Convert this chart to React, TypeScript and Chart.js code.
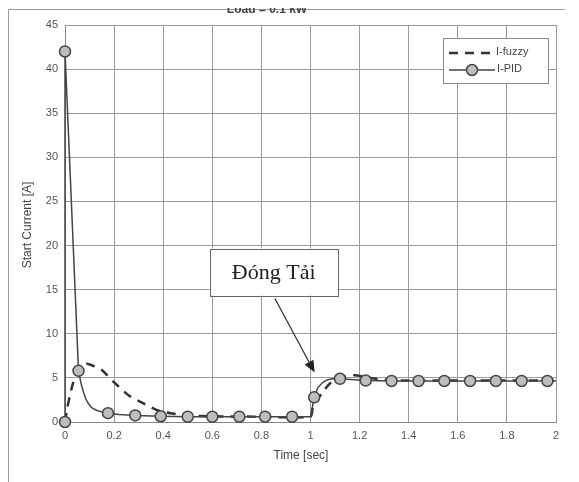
import React, { useEffect, useRef } from "react";
import { Chart, registerables } from "chart.js";

Chart.register(...registerables);

// ---- data ----
const xTicksMin = 0;
const xTicksMax = 2;
const xStep = 0.2;
const yTicksMin = 0;
const yTicksMax = 45;
const yStep = 5;

const pidT = [0, 0, 0.055, 0.065, 0.075, 0.085, 0.095, 0.11, 0.13, 0.15, 0.175, 0.22, 0.286, 0.39, 0.5, 0.6, 0.71, 0.815, 0.925, 1.0, 1.005, 1.015, 1.03, 1.05, 1.07, 1.09, 1.12, 1.225, 1.33, 1.44, 1.545, 1.65, 1.755, 1.86, 1.965, 2.0];
const pidI = [0, 42, 5.8, 4.4, 3.4, 2.6, 2.1, 1.6, 1.3, 1.15, 1.0, 0.85, 0.75, 0.65, 0.6, 0.6, 0.6, 0.6, 0.6, 0.6, 1.3, 2.8, 3.9, 4.5, 4.8, 4.9, 4.9, 4.7, 4.65, 4.65, 4.65, 4.65, 4.65, 4.65, 4.65, 4.65];
const pidMarker = [1, 1, 1, 0, 0, 0, 0, 0, 0, 0, 1, 0, 1, 1, 1, 1, 1, 1, 1, 0, 0, 1, 0, 0, 0, 0, 1, 1, 1, 1, 1, 1, 1, 1, 1, 0];

const fuzzyT = [0, 0.01, 0.025, 0.04, 0.06, 0.088, 0.12, 0.15, 0.2, 0.26, 0.32, 0.38, 0.43, 0.5, 0.6, 0.8, 1.0, 1.01, 1.03, 1.05, 1.08, 1.12, 1.18, 1.25, 1.32, 1.4, 1.6, 2.0];
const fuzzyI = [0, 1.7, 3.6, 5.1, 6.1, 6.6, 6.3, 5.9, 4.5, 3.0, 2.1, 1.3, 1.0, 0.75, 0.65, 0.6, 0.6, 1.7, 2.6, 3.4, 4.4, 5.0, 5.3, 4.95, 4.75, 4.7, 4.7, 4.7];

const seriesNames = ["I-fuzzy", "I-PID"];
const xTitle = "Time [sec]";
const yTitle = "Start Current [A]";
const topTitle = "Load = 0.1 kW";
const noteText = "Đóng Tải";
const noteBox = { t: 0.85, i: 17.0 };
const noteArrowFrom = { t: 0.855, i: 14.0 };
const noteArrowTo = { t: 1.017, i: 5.6 };

const W = 579;
const H = 482;

const markerFill = "#bdbdbd";
const markerEdge = "#444";

const decorPlugin = {
  id: "decor",
  afterDraw(chart: any) {
    const ctx = chart.ctx as CanvasRenderingContext2D;
    const xs = chart.scales.x;
    const ys = chart.scales.y;
    ctx.save();

    // outer frame
    ctx.strokeStyle = "#9a9a9a";
    ctx.lineWidth = 1;
    ctx.beginPath();
    ctx.moveTo(8.5, H);
    ctx.lineTo(8.5, 9.5);
    ctx.lineTo(565, 9.5);
    ctx.stroke();

    // cut-off title
    ctx.fillStyle = "#444";
    ctx.font = "bold 12px Arial, 'Liberation Sans', sans-serif";
    ctx.textAlign = "center";
    ctx.textBaseline = "alphabetic";
    ctx.fillText(topTitle, 267, 13);
    ctx.fillStyle = "#fff";
    ctx.fillRect(200, 0, 140, 8);

    // axis titles
    ctx.fillStyle = "#444";
    ctx.font = "12px Arial, 'Liberation Sans', sans-serif";
    ctx.textBaseline = "middle";
    ctx.fillText(xTitle, 301, 456);
    ctx.save();
    ctx.translate(28, 225);
    ctx.rotate(-Math.PI / 2);
    ctx.fillText(yTitle, 0, 0);
    ctx.restore();

    // legend
    const lx = 443.5, ly = 38.5, lw = 105, lh = 45;
    ctx.fillStyle = "#fff";
    ctx.fillRect(lx, ly, lw, lh);
    ctx.strokeStyle = "#8a8a8a";
    ctx.lineWidth = 1;
    ctx.strokeRect(lx, ly, lw, lh);
    ctx.strokeStyle = "#333";
    ctx.lineWidth = 2.5;
    ctx.setLineDash([9, 7]);
    ctx.beginPath();
    ctx.moveTo(449, 53);
    ctx.lineTo(494, 53);
    ctx.stroke();
    ctx.setLineDash([]);
    ctx.lineWidth = 1.5;
    ctx.strokeStyle = "#444";
    ctx.beginPath();
    ctx.moveTo(449, 70);
    ctx.lineTo(495, 70);
    ctx.stroke();
    ctx.beginPath();
    ctx.arc(472, 70, 5.5, 0, Math.PI * 2);
    ctx.fillStyle = markerFill;
    ctx.fill();
    ctx.strokeStyle = markerEdge;
    ctx.stroke();
    ctx.fillStyle = "#444";
    ctx.font = "11px Arial, 'Liberation Sans', sans-serif";
    ctx.textAlign = "left";
    ctx.fillText(seriesNames[0], 496, 52);
    ctx.fillText(seriesNames[1], 497, 69);

    // annotation box
    const bx = xs.getPixelForValue(noteBox.t);
    const by = ys.getPixelForValue(noteBox.i);
    const bw = 128, bh = 47;
    ctx.fillStyle = "#fff";
    ctx.fillRect(bx - bw / 2, by - bh / 2, bw, bh);
    ctx.strokeStyle = "#666";
    ctx.lineWidth = 1;
    ctx.strokeRect(Math.round(bx - bw / 2) + 0.5, Math.round(by - bh / 2) + 0.5, bw, bh);
    ctx.fillStyle = "#222";
    ctx.font = "22px 'Liberation Serif', 'Times New Roman', serif";
    ctx.textAlign = "center";
    ctx.textBaseline = "middle";
    ctx.fillText(noteText, bx, by + 1);

    // arrow
    const ax0 = xs.getPixelForValue(noteArrowFrom.t);
    const ay0 = ys.getPixelForValue(noteArrowFrom.i);
    const ax1 = xs.getPixelForValue(noteArrowTo.t);
    const ay1 = ys.getPixelForValue(noteArrowTo.i);
    const ang = Math.atan2(ay1 - ay0, ax1 - ax0);
    const hl = 12, hw = 5;
    ctx.strokeStyle = "#333";
    ctx.lineWidth = 1.3;
    ctx.beginPath();
    ctx.moveTo(ax0, ay0);
    ctx.lineTo(ax1 - Math.cos(ang) * hl, ay1 - Math.sin(ang) * hl);
    ctx.stroke();
    ctx.fillStyle = "#222";
    ctx.beginPath();
    ctx.moveTo(ax1, ay1);
    ctx.lineTo(ax1 - Math.cos(ang) * hl - Math.sin(ang) * hw, ay1 - Math.sin(ang) * hl + Math.cos(ang) * hw);
    ctx.lineTo(ax1 - Math.cos(ang) * hl + Math.sin(ang) * hw, ay1 - Math.sin(ang) * hl - Math.cos(ang) * hw);
    ctx.closePath();
    ctx.fill();

    ctx.restore();
  },
};

export default function App() {
  const ref = useRef<HTMLCanvasElement>(null);

  useEffect(() => {
    document.body.style.margin = "0";
    const canvas = ref.current;
    if (!canvas) return;

    const pidData = pidT.map((t, k) => ({ x: t, y: pidI[k] }));
    const fuzzyData = fuzzyT.map((t, k) => ({ x: t, y: fuzzyI[k] }));

    const chart = new Chart(canvas, {
      type: "line",
      data: {
        datasets: [
          {
            label: seriesNames[1],
            data: pidData,
            borderColor: "#444",
            borderWidth: 1.5,
            tension: 0,
            pointRadius: pidMarker.map((m) => (m ? 5.5 : 0)),
            pointBackgroundColor: markerFill,
            pointBorderColor: markerEdge,
            pointBorderWidth: 1.5,
            clip: false as any,
            order: 0,
          },
          {
            label: seriesNames[0],
            data: fuzzyData,
            borderColor: "#333",
            borderWidth: 2.5,
            borderDash: [9, 7],
            tension: 0.2,
            pointRadius: 0,
            clip: false as any,
            order: 1,
          },
        ],
      },
      options: {
        responsive: false,
        animation: false,
        events: [],
        layout: { padding: { top: 25, right: 23, left: 0, bottom: 0 } },
        plugins: {
          legend: { display: false },
          tooltip: { enabled: false },
          title: { display: false },
        },
        scales: {
          x: {
            type: "linear",
            min: xTicksMin,
            max: xTicksMax,
            afterFit: (s: any) => {
              s.height = 60;
            },
            ticks: {
              stepSize: xStep,
              padding: 7,
              color: "#555",
              font: { family: "Arial, 'Liberation Sans', sans-serif", size: 11 },
              callback: (v: any) => String(Math.round(Number(v) * 10) / 10),
            },
            grid: { color: "#9a9a9a", lineWidth: 1, drawTicks: false },
            border: { display: true, color: "#888" },
          },
          y: {
            type: "linear",
            min: yTicksMin,
            max: yTicksMax,
            afterFit: (s: any) => {
              s.width = 65;
            },
            ticks: {
              stepSize: yStep,
              padding: 7,
              color: "#555",
              font: { family: "Arial, 'Liberation Sans', sans-serif", size: 11 },
            },
            grid: { color: "#9a9a9a", lineWidth: 1, drawTicks: false },
            border: { display: true, color: "#888" },
          },
        },
      },
      plugins: [decorPlugin],
    });

    return () => chart.destroy();
  }, []);

  return (
    <canvas
      ref={ref}
      width={W}
      height={H}
      style={{ display: "block", width: W, height: H }}
    />
  );
}
